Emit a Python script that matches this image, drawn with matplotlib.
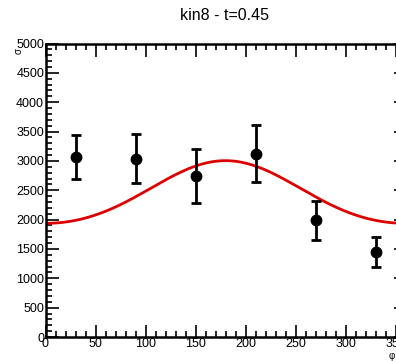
import numpy as np
import matplotlib
matplotlib.use("Agg")
import matplotlib.pyplot as plt
from matplotlib.ticker import MultipleLocator

plt.rcParams['font.family'] = ['Liberation Sans', 'DejaVu Sans']

# measured points (phi in degrees)
phi = [30, 90, 150, 210, 270, 330]
sigma = [3065, 3040, 2745, 3120, 1990, 1455]
sigma_err = [380, 425, 455, 485, 335, 255]

# fit: A - B*cos(phi) + C*cos(2*phi)
fit_A = 2429
fit_B = 534
fit_C = 41

title = "kin8 - t=0.45"

fig = plt.figure(figsize=(3.96, 3.61), dpi=100)
ax = fig.add_axes([45.5/396, 24/361, 360/396, 293.5/361])

phi_fit = np.linspace(0, 360, 361)
rad = np.radians(phi_fit)
ax.plot(phi_fit, fit_A - fit_B*np.cos(rad) + fit_C*np.cos(2*rad),
        color='#dd0000', lw=2.0, zorder=2)

ax.errorbar(phi, sigma, yerr=sigma_err, fmt='o', color='black', ms=7.5,
            elinewidth=2.0, capsize=3.5, capthick=2.0, zorder=3)

ax.set_xlim(0, 360)
ax.set_ylim(0, 5000)
ax.xaxis.set_major_locator(MultipleLocator(50))
ax.xaxis.set_minor_locator(MultipleLocator(10))
ax.yaxis.set_major_locator(MultipleLocator(500))
ax.yaxis.set_minor_locator(MultipleLocator(100))
ax.tick_params(which='both', direction='in', top=True, right=True,
               labelsize=9, width=1.2, pad=1)
ax.tick_params(which='major', length=9)
ax.tick_params(which='minor', length=4.5)
for s in ax.spines.values():
    s.set_linewidth(1.8)

fig.text(224/396, 1 - 16/361, title, ha='center', va='center', fontsize=11.5)
fig.text(19/396, 1 - 51/361, "\u03c3", rotation=90, ha='center', va='center', fontsize=7)
fig.text(392/396, 1 - 356/361, "\u03c6", ha='center', va='center', fontsize=7)

fig.savefig("out.png", dpi=100)
